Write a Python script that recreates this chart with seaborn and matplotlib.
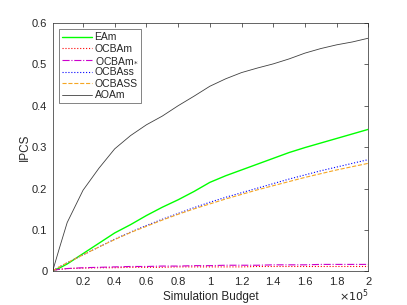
import numpy as np
import pandas as pd
import matplotlib
matplotlib.use('Agg')
import matplotlib.pyplot as plt
import seaborn as sns

budget = [1000, 5000, 10000, 20000, 30000, 40000, 50000, 60000, 70000, 80000, 90000, 100000,
          110000, 120000, 130000, 140000, 150000, 160000, 170000, 180000, 190000, 200000]

eam = [0.002, 0.008, 0.018, 0.043, 0.068, 0.093, 0.113, 0.135, 0.155, 0.173, 0.193, 0.215,
       0.231, 0.245, 0.259, 0.273, 0.287, 0.299, 0.31, 0.321, 0.332, 0.343]
ocbam = [0.003, 0.005, 0.007, 0.008, 0.009, 0.009, 0.010, 0.010, 0.010, 0.011, 0.011, 0.011,
         0.011, 0.011, 0.012, 0.012, 0.012, 0.012, 0.012, 0.012, 0.012, 0.012]
ocbam_star = [0.003, 0.005, 0.007, 0.009, 0.010, 0.011, 0.012, 0.012, 0.013, 0.013, 0.014, 0.014,
              0.015, 0.015, 0.015, 0.016, 0.016, 0.016, 0.017, 0.017, 0.017, 0.017]
ocbass = [0.002, 0.011, 0.021, 0.040, 0.059, 0.078, 0.095, 0.111, 0.126, 0.140, 0.154, 0.167,
          0.179, 0.190, 0.201, 0.212, 0.223, 0.233, 0.243, 0.252, 0.261, 0.270]
ocbaSS = [0.002, 0.011, 0.021, 0.040, 0.059, 0.077, 0.094, 0.109, 0.124, 0.138, 0.151, 0.163,
          0.175, 0.186, 0.197, 0.207, 0.217, 0.227, 0.236, 0.245, 0.253, 0.261]
aoam = [0.003, 0.055, 0.118, 0.196, 0.249, 0.296, 0.328, 0.354, 0.375, 0.400, 0.423, 0.447,
        0.465, 0.480, 0.491, 0.501, 0.513, 0.527, 0.538, 0.547, 0.554, 0.563]

labels = ['EAm', 'OCBAm', r'OCBAm$_{*}$', 'OCBAss', 'OCBASS', 'AOAm']
series = [eam, ocbam, ocbam_star, ocbass, ocbaSS, aoam]
colors = ['#00ff00', '#ff0000', '#cc00cc', '#0000ff', '#f5a623', '#404040']
styles = ['-', ':', '-.', ':', '--', '-']
widths = [1.0, 0.8, 0.8, 0.8, 0.8, 0.6]

sns.set_style('white')
plt.rcParams['font.family'] = ['Liberation Sans', 'DejaVu Sans']
plt.rcParams['mathtext.fontset'] = 'dejavusans'

fig = plt.figure(figsize=(4.07, 3.05), dpi=100)
ax = fig.add_axes([0.13, 0.11, 0.775, 0.815])

x = np.array(budget) / 1e5
for lab, vals, c, ls, lw in zip(labels, series, colors, styles, widths):
    df = pd.DataFrame({'x': x, 'y': vals})
    sns.lineplot(data=df, x='x', y='y', ax=ax, color=c, linestyle=ls,
                 linewidth=lw, label=lab)

ax.set_xlim(0.01, 2)
ax.set_ylim(0, 0.6)
ax.set_xticks(np.arange(0.2, 2.01, 0.2))
ax.set_xticklabels(['0.2', '0.4', '0.6', '0.8', '1', '1.2', '1.4', '1.6', '1.8', '2'])
ax.set_yticks(np.arange(0, 0.61, 0.1))
ax.set_yticklabels(['0', '0.1', '0.2', '0.3', '0.4', '0.5', '0.6'])
ax.tick_params(direction='in', length=3, width=0.5, colors='#262626',
               labelsize=8, top=True, right=True, pad=4)
for s in ax.spines.values():
    s.set_color('#262626')
    s.set_linewidth(0.5)

ax.set_xlabel('Simulation Budget', fontsize=8.5, color='#262626', labelpad=3)
ax.set_ylabel('IPCS', fontsize=8.5, color='#262626', labelpad=1)
ax.text(1.0, -0.066, r'$\times 10^5$', transform=ax.transAxes, ha='right', va='top',
        fontsize=8, color='#262626')

leg = ax.legend(loc='upper left', fontsize=7.5, frameon=True, fancybox=False,
                handlelength=2.9, handletextpad=0.2, borderpad=0.3, labelspacing=0.15,
                borderaxespad=0.6)
leg.get_frame().set_edgecolor('#262626')
leg.get_frame().set_linewidth(0.5)

fig.savefig('out.png', dpi=100)
